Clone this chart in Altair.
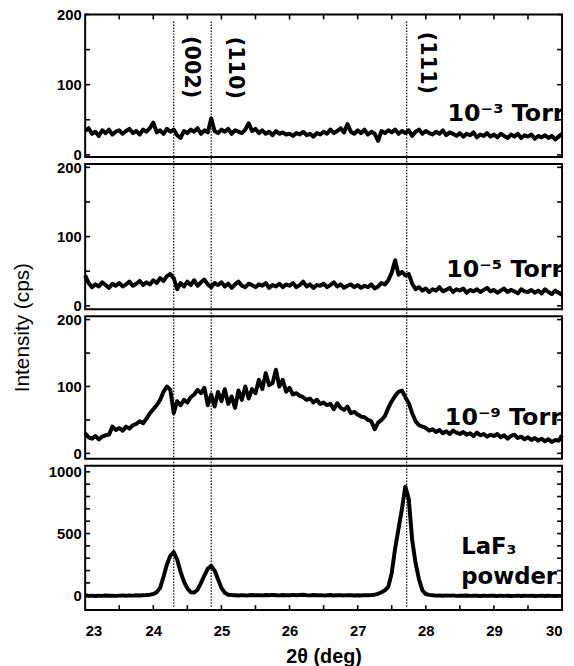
import altair as alt
import pandas as pd

# ---------------- data (2theta grid: 23.00 .. 30.00, step 0.05) ----------------
X_START = 23.0
X_STEP = 0.05

torr3 = [34, 38, 30, 33, 27, 35, 31, 36, 29, 33,
         35, 30, 34, 37, 31, 34, 29, 36, 33, 38,
         46, 32, 35, 30, 37, 33, 36, 28, 24, 34,
         31, 36, 33, 38, 30, 35, 32, 52, 34, 31,
         36, 33, 37, 30, 35, 33, 31, 36, 45, 34,
         37, 31, 35, 30, 33, 28, 34, 30, 32, 29,
         30, 27, 31, 29, 33, 28, 30, 26, 31, 29,
         33, 30, 36, 31, 34, 38, 32, 44, 33, 30,
         35, 31, 36, 29, 33, 30, 20, 34, 31, 35,
         32, 36, 30, 34, 31, 35, 27, 33, 36, 30,
         34, 31, 29, 33, 30, 35, 28, 32, 30, 27,
         31, 26, 30, 28, 32, 25, 29, 27, 31, 26,
         29, 25, 30, 27, 24, 29, 26, 30, 24, 28,
         26, 29, 23, 27, 25, 28, 24, 27, 22, 26,
         30]

torr5 = [44, 33, 27, 31, 28, 34, 30, 26, 32, 29,
         33, 28, 31, 35, 29, 32, 36, 30, 34, 31,
         37, 33, 40, 36, 43, 46, 40, 24, 33, 28,
         35, 30, 37, 29, 34, 38, 31, 27, 33, 30,
         34, 28, 32, 26, 31, 35, 29, 27, 32, 30,
         27, 31, 29, 33, 26, 30, 28, 32, 27, 31,
         29, 33, 27, 30, 35, 28, 31, 26, 30, 29,
         32, 27, 30, 34, 28, 31, 26, 29, 31, 27,
         30, 26, 29, 27, 31, 25, 28, 33, 31, 37,
         48, 66, 45, 49, 44, 46, 32, 24, 27, 22,
         25, 20, 24, 22, 27, 21, 23, 26, 20, 24,
         22, 25, 19, 23, 21, 24, 20, 23, 26, 21,
         23, 19, 22, 25, 20, 23, 21, 18, 24, 21,
         20, 23, 19, 22, 18, 24, 20, 17, 22, 19,
         16]

torr9 = [30, 24, 22, 26, 21, 25, 27, 28, 40, 35,
         38, 34, 40, 37, 42, 44, 48, 45, 52, 60,
         66, 72, 80, 92, 100, 95, 60, 78, 72, 80,
         76, 84, 88, 95, 90, 98, 72, 88, 70, 92,
         78, 96, 74, 85, 68, 94, 80, 100, 82, 96,
         90, 110, 96, 120, 102, 105, 125, 100, 110, 92,
         98, 88, 90, 86, 84, 80, 82, 76, 80, 74,
         76, 72, 74, 66, 75, 68, 65, 70, 60, 62,
         58, 55, 54, 50, 48, 36, 46, 50, 56, 68,
         78, 86, 92, 94, 84, 75, 60, 48, 42, 40,
         38, 34, 36, 32, 35, 30, 33, 29, 34, 31,
         29, 32, 28, 30, 26, 31, 27, 29, 25, 28,
         26, 29, 24, 27, 22, 26, 28, 23, 25, 21,
         24, 20, 23, 19, 22, 18, 21, 17, 20, 19,
         27]

powder = [0, -5, -3, -6, -4, -5, -2, -4, -3, -5,
          -3, -2, -4, -1, -3, 0, -2, 1, 2, 5,
          10, 25, 60, 150, 250, 320, 350, 290, 190, 110,
          55, 25, 22, 45, 100, 160, 215, 238, 200, 130,
          60, 20, 5, 2, 0, -2, 1, -1, 0, 2,
          0, 1, -1, 2, 0, 3, 1, -1, 2, 0,
          1, 3, 0, 2, 4, 1, -1, 2, 0, 1,
          -1, 0, 2, -2, 1, 0, -1, 1, 0, -2,
          0, -1, 1, 0, 2, 5, 12, 25, 40, 70,
          180, 380, 540, 700, 880, 780, 450, 260, 130, 40,
          10, 3, 0, -3, -2, -4, -1, -3, -2, -5,
          -3, -4, -2, -5, -3, -4, -6, -3, -5, -4,
          -4, -6, -3, -5, -4, -6, -5, -3, -6, -4,
          -5, -4, -6, -5, -3, -6, -4, -5, -6, -5,
          -5]

peak_pos = [24.3, 24.85, 27.72]
peak_names = ["(002)", "(110)", "(111)"]

x_labels = [23, 24, 25, 26, 27, 28, 29, 30]
x_ticks = [23.5, 24.0, 24.5, 25.0, 25.5, 26.0, 26.5, 27.0, 27.5, 28.0, 28.5, 29.0, 29.5]
y_ticks_small = [0, 50, 100, 150, 200]
y_labels_small = [0, 100, 200]
y_ticks_big = [0, 100, 200, 300, 400, 500, 600, 700, 800, 900, 1000]
y_labels_big = [0, 500, 1000]

# ---------------- layout ----------------
W = 482
FONT = "Liberation Sans"
LABEL_FONT = "DejaVu Sans"

xs = [round(X_START + i * X_STEP, 2) for i in range(len(torr3))]


def make_panel(values, ydom, yticks, ylabels, height, rule_lo, rule_hi,
               texts, x_axis=None, y_title=None, top_ticks=False, bottom_ticks=False):
    xscale = alt.Scale(domain=[23, 30], nice=False, zero=False)
    yscale = alt.Scale(domain=ydom, nice=False, zero=False)
    yaxis_kw = dict(values=ylabels, ticks=False, domain=False, grid=False, format="d",
                    labelFont=FONT, labelFontSize=15, labelFontWeight="bold",
                    labelColor="black", labelPadding=4)
    if y_title:
        yaxis_kw.update(title=y_title, titleFont=FONT, titleFontSize=21,
                        titleFontWeight="normal", titleColor="black",
                        titlePadding=24, titleY=165)
    else:
        yaxis_kw.update(title=None)
    yaxis = alt.Axis(**yaxis_kw)

    def xenc(f):
        if x_axis is None:
            return alt.X(f, type="quantitative", scale=xscale, axis=None)
        return alt.X(f, type="quantitative", scale=xscale, axis=x_axis)

    def yenc(f):
        return alt.Y(f, type="quantitative", scale=yscale, axis=yaxis)

    data = pd.DataFrame({"x": xs, "y": values})
    rules_df = pd.DataFrame({"x": peak_pos, "y": [rule_hi] * 3, "y2": [rule_lo] * 3})
    yt_df = pd.DataFrame({"y": yticks})
    xt_df = pd.DataFrame({"x": x_ticks})

    layers = []
    layers.append(
        alt.Chart(rules_df).mark_rule(color="black", strokeWidth=1.2, strokeDash=[1.5, 1.5])
        .encode(x=xenc("x"), y=yenc("y"), y2="y2")
    )
    layers.append(
        alt.Chart(data).mark_line(color="black", strokeWidth=4, strokeJoin="round")
        .encode(x=xenc("x"), y=yenc("y"))
    )
    layers.append(
        alt.Chart(yt_df).mark_rule(color="black", strokeWidth=1.6)
        .encode(y=yenc("y"), x=alt.value(0), x2=alt.value(5))
    )
    layers.append(
        alt.Chart(yt_df).mark_rule(color="black", strokeWidth=1.6)
        .encode(y=yenc("y"), x=alt.value(W), x2=alt.value(W - 5))
    )
    if top_ticks:
        layers.append(
            alt.Chart(xt_df).mark_rule(color="black", strokeWidth=1.6)
            .encode(x=xenc("x"), y=alt.value(0), y2=alt.value(5))
        )
    if bottom_ticks:
        layers.append(
            alt.Chart(xt_df).mark_rule(color="black", strokeWidth=1.6)
            .encode(x=xenc("x"), y=alt.value(height), y2=alt.value(height - 5))
        )
    for t in texts:
        tdf = pd.DataFrame({"x": [t["x"]], "y": [t["y"]], "t": [t["text"]]})
        layers.append(
            alt.Chart(tdf).mark_text(
                font=LABEL_FONT, fontSize=t.get("size", 24), fontWeight="bold",
                color="black", align=t.get("align", "left"),
                baseline=t.get("baseline", "alphabetic"), angle=t.get("angle", 0),
                clip=True,
            ).encode(x=xenc("x"), y=yenc("y"), text="t:N")
        )
    return alt.layer(*layers).properties(width=W, height=height)


p1_texts = [
    {"x": 24.55, "y": 125, "text": peak_names[0], "angle": 90, "align": "center", "baseline": "middle", "size": 21},
    {"x": 25.2, "y": 124, "text": peak_names[1], "angle": 90, "align": "center", "baseline": "middle", "size": 21},
    {"x": 28.02, "y": 131, "text": peak_names[2], "angle": 90, "align": "center", "baseline": "middle", "size": 21},
    {"x": 28.32, "y": 48, "text": "10⁻³ Torr"},
]
p2_texts = [{"x": 28.30, "y": 41, "text": "10⁻⁵ Torr"}]
p3_texts = [{"x": 28.28, "y": 42, "text": "10⁻⁹ Torr"}]
p4_texts = [
    {"x": 28.52, "y": 335, "text": "LaF₃", "size": 23},
    {"x": 28.52, "y": 91, "text": "powder", "size": 23},
]

x_axis_bottom = alt.Axis(values=x_labels, ticks=False, domain=False, grid=False,
                         format="d", labelFont=FONT, labelFontSize=15, labelFontWeight="bold",
                         labelColor="black", labelPadding=14,
                         title="2θ (deg)", titleFont=FONT, titleFontSize=20,
                         titleFontWeight="bold", titleColor="black", titlePadding=8)

p1 = make_panel(torr3, [-3, 200], y_ticks_small, y_labels_small, 144, -15, 190, p1_texts, top_ticks=True)
p2 = make_panel(torr5, [-5, 205], y_ticks_small, y_labels_small, 147, -15, 205, p2_texts,
                y_title="Intensity (cps)")
p3 = make_panel(torr9, [-8, 205], y_ticks_small, y_labels_small, 144, -20, 205, p3_texts)
p4 = make_panel(powder, [-120, 1050], y_ticks_big, y_labels_big, 146, -100, 1050, p4_texts,
                x_axis=x_axis_bottom, bottom_ticks=True)

chart = (
    alt.vconcat(p1, p2, p3, p4, spacing=7, bounds="flush")
    .resolve_scale(x="independent", y="independent")
    .properties(
        padding={"left": 2, "top": -5, "right": 1, "bottom": 0},
        background="white",
    )
    .configure_view(stroke="black", strokeWidth=2)
)

chart.save("out.html", embed_options={"renderer": "svg", "actions": False})
